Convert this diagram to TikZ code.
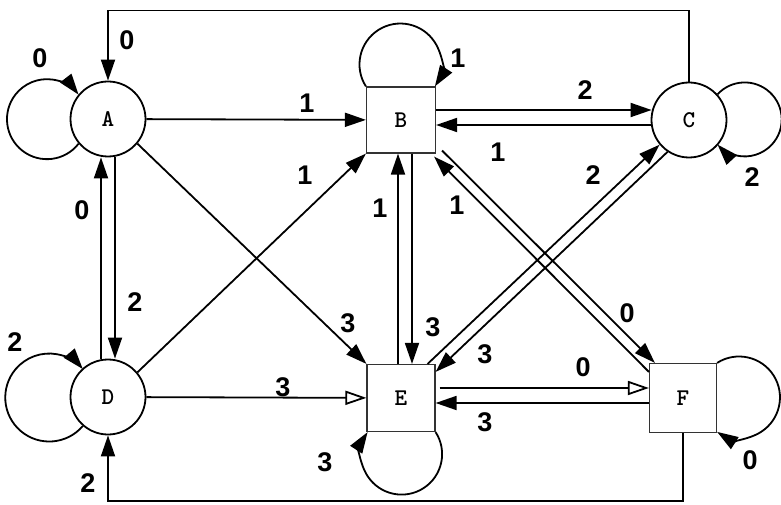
\documentclass[tikz,border=0pt]{standalone}
\usepackage{fontspec}
\setmainfont{Liberation Sans}
\usetikzlibrary{arrows.meta,calc}

\begin{document}
\begin{tikzpicture}[x=1pt,y=1pt,
    state/.style={circle, draw, line width=1.8pt, minimum size=75pt, inner sep=0pt, font=\ttfamily\bfseries\fontsize{24}{26}\selectfont},
    box/.style={rectangle, draw=black!80, line width=1.2pt, minimum width=69pt, minimum height=66pt, inner sep=0pt, font=\ttfamily\bfseries\fontsize{24}{26}\selectfont},
    lbl/.style={font=\bfseries\fontsize{27}{29}\selectfont},
    tr/.style={line width=1.8pt, -{Triangle[length=21pt,width=14pt]}},
    tro/.style={line width=1.8pt, -{Triangle[open,length=21pt,width=14pt]}}]
  \useasboundingbox (0,0) rectangle (781,504);
  % states
  \node[state] (A) at (108,385) {A};
  \node[box] (B) at (401,384) {B};
  \node[state] (C) at (689,384) {C};
  \node[state] (D) at (108,107) {D};
  \node[box, minimum width=68pt, minimum height=67pt] (E) at (401,106) {E};
  \node[box, minimum width=67pt, minimum height=69pt] (F) at (683,106) {F};

  % self loops
  \draw[tr] (A.220.8) arc[start angle=-37.8, end angle=-322.2, radius=40];
  \draw[tr] (D.229.4) arc[start angle=-40.3, end angle=-319.7, radius=44];
  \draw[tr] (B.north west) arc[start angle=212.5, end angle=-32.5, radius=40.9];
  \draw[tr] (C.42.2) arc[start angle=137.2, end angle=-137.2, radius=37];
  \draw[tr] (E.south east) arc[start angle=32.9, end angle=-212.9, radius=40.5];
  \draw[tr] (F.north east) arc[start angle=122.5, end angle=-122.5, radius=40.9];

  % transitions
  \draw[tr] (A) -- (B);
  \draw[tro] (D) -- (E);
  \draw[tr] ($(A.south)+(7,0)$) -- ($(D.north)+(7,0)$);
  \draw[tr] ($(D.north)+(-7,0)$) -- ($(A.south)+(-7,0)$);
  \draw[tr] (A.-40) -- (E.north west);
  \draw[tr] (D.40) -- (B.south west);
  \draw[tr] ($(B.east)+(0,10)$) -- ($(C.west)+(1,10)$);
  \draw[tr] ($(C.west)+(0,-5)$) -- ($(B.east)+(0,-5)$);
  \draw[tr] ($(E.north)+(-3,0)$) -- ($(B.south)+(-3,0)$);
  \draw[tr] ($(B.south)+(11,0)$) -- ($(E.north)+(11,0)$);
  \draw[tr] ($(B.south east)+(6,3)$) -- ($(F.north west)+(6,0)$);
  \draw[tr] ($(F.north west)+(0,-9)$) -- ($(B.south east)+(-2,-3)$);
  \draw[tr] ($(E.north east)+(-8,0)$) -- (C.220);
  \draw[tr] (C.236) -- ($(E.north east)+(0,-8)$);
  \draw[tro] ($(E.east)+(4,10)$) -- ($(F.west)+(0,10)$);
  \draw[tr] ($(F.west)+(0,-5)$) -- ($(E.east)+(0,-5)$);
  \draw[tr] (C.north) -- ++(0,71) -| (A.north);
  \draw[tr] (F.south) -- ++(0,-68) -| (D.south);

  % labels
  \node[lbl] (l1) at (40,446) {0};
  \node[lbl] (l2) at (127,464) {0};
  \node[lbl] (l3) at (307,401) {1};
  \node[lbl] (l4) at (305,329) {1};
  \node[lbl] (l5) at (82,294) {0};
  \node[lbl] (l6) at (135,202) {2};
  \node[lbl] (l7) at (15,162) {2};
  \node[lbl] (l8) at (348,181) {3};
  \node[lbl] (l9) at (283,117) {3};
  \node[lbl] (l10) at (325,42) {3};
  \node[lbl] (l11) at (88,21) {2};
  \node[lbl] (l12) at (458,446) {1};
  \node[lbl] (l13) at (585,414) {2};
  \node[lbl] (l14) at (498,352) {1};
  \node[lbl] (l15) at (593,329) {2};
  \node[lbl] (l16) at (752,327) {2};
  \node[lbl] (l17) at (457,299) {1};
  \node[lbl] (l18) at (380,296) {1};
  \node[lbl] (l19) at (433,177) {3};
  \node[lbl] (l20) at (485,150) {3};
  \node[lbl] (l21) at (627,191) {0};
  \node[lbl] (l22) at (583,137) {0};
  \node[lbl] (l23) at (485,82) {3};
  \node[lbl] (l24) at (750,44) {0};
\end{tikzpicture}
\end{document}
